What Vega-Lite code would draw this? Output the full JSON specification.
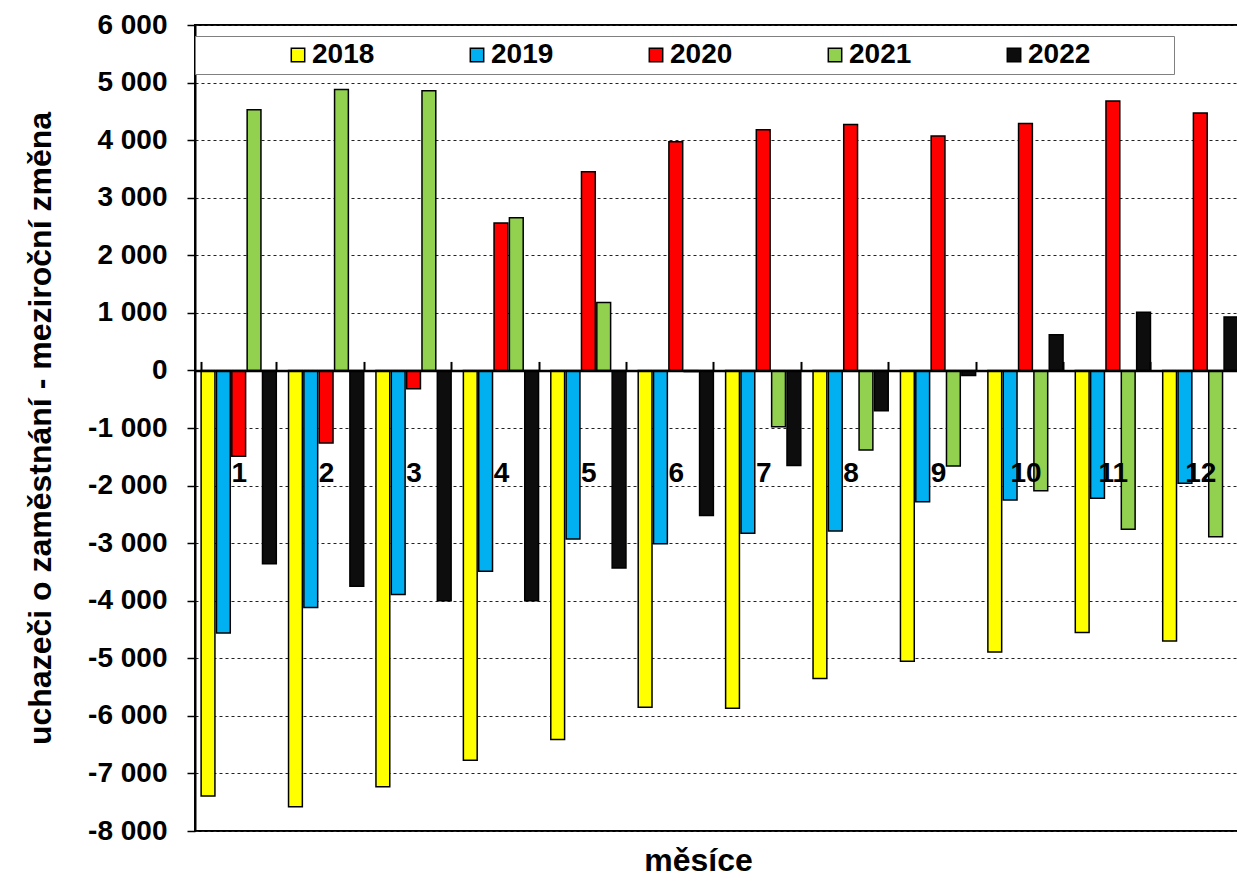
{
  "$schema": "https://vega.github.io/schema/vega-lite/v6.json",
  "width": 1049,
  "height": 806,
  "autosize": {"type": "none"},
  "padding": {"left": 195, "top": 25, "right": -7, "bottom": 50},
  "background": "white",
  "config": {
    "view": {"stroke": "black", "strokeWidth": 2},
    "font": "Liberation Sans"
  },
  "data": {
    "values": [
      {"month": 1, "year": "2018", "value": -7390},
      {"month": 1, "year": "2019", "value": -4560},
      {"month": 1, "year": "2020", "value": -1490},
      {"month": 1, "year": "2021", "value": 4530},
      {"month": 1, "year": "2022", "value": -3360},
      {"month": 2, "year": "2018", "value": -7580},
      {"month": 2, "year": "2019", "value": -4120},
      {"month": 2, "year": "2020", "value": -1260},
      {"month": 2, "year": "2021", "value": 4880},
      {"month": 2, "year": "2022", "value": -3750},
      {"month": 3, "year": "2018", "value": -7230},
      {"month": 3, "year": "2019", "value": -3890},
      {"month": 3, "year": "2020", "value": -320},
      {"month": 3, "year": "2021", "value": 4860},
      {"month": 3, "year": "2022", "value": -4000},
      {"month": 4, "year": "2018", "value": -6770},
      {"month": 4, "year": "2019", "value": -3490},
      {"month": 4, "year": "2020", "value": 2560},
      {"month": 4, "year": "2021", "value": 2650},
      {"month": 4, "year": "2022", "value": -4000},
      {"month": 5, "year": "2018", "value": -6410},
      {"month": 5, "year": "2019", "value": -2930},
      {"month": 5, "year": "2020", "value": 3450},
      {"month": 5, "year": "2021", "value": 1180},
      {"month": 5, "year": "2022", "value": -3430},
      {"month": 6, "year": "2018", "value": -5850},
      {"month": 6, "year": "2019", "value": -3010},
      {"month": 6, "year": "2020", "value": 3970},
      {"month": 6, "year": "2021", "value": -20},
      {"month": 6, "year": "2022", "value": -2520},
      {"month": 7, "year": "2018", "value": -5870},
      {"month": 7, "year": "2019", "value": -2830},
      {"month": 7, "year": "2020", "value": 4180},
      {"month": 7, "year": "2021", "value": -980},
      {"month": 7, "year": "2022", "value": -1650},
      {"month": 8, "year": "2018", "value": -5350},
      {"month": 8, "year": "2019", "value": -2790},
      {"month": 8, "year": "2020", "value": 4270},
      {"month": 8, "year": "2021", "value": -1380},
      {"month": 8, "year": "2022", "value": -700},
      {"month": 9, "year": "2018", "value": -5050},
      {"month": 9, "year": "2019", "value": -2280},
      {"month": 9, "year": "2020", "value": 4070},
      {"month": 9, "year": "2021", "value": -1660},
      {"month": 9, "year": "2022", "value": -90},
      {"month": 10, "year": "2018", "value": -4890},
      {"month": 10, "year": "2019", "value": -2250},
      {"month": 10, "year": "2020", "value": 4290},
      {"month": 10, "year": "2021", "value": -2090},
      {"month": 10, "year": "2022", "value": 620},
      {"month": 11, "year": "2018", "value": -4550},
      {"month": 11, "year": "2019", "value": -2220},
      {"month": 11, "year": "2020", "value": 4680},
      {"month": 11, "year": "2021", "value": -2760},
      {"month": 11, "year": "2022", "value": 1010},
      {"month": 12, "year": "2018", "value": -4700},
      {"month": 12, "year": "2019", "value": -1960},
      {"month": 12, "year": "2020", "value": 4470},
      {"month": 12, "year": "2021", "value": -2890},
      {"month": 12, "year": "2022", "value": 930}
    ]
  },
  "mark": {"type": "bar", "stroke": "black", "strokeWidth": 1.5},
  "encoding": {
    "x": {
      "field": "month",
      "type": "ordinal",
      "scale": {"paddingInner": 0.14, "paddingOuter": 0.07},
      "axis": {
        "orient": "bottom",
        "offset": -460.57,
        "title": "měsíce",
        "titleFontSize": 32,
        "titleFontWeight": "bold",
        "titleColor": "black",
        "titleX": 503,
        "titleY": 500,
        "titleAlign": "center",
        "titleBaseline": "alphabetic",
        "labelAngle": 0,
        "labelFontSize": 28,
        "labelFontWeight": "bold",
        "labelColor": "black",
        "labelBaseline": "alphabetic",
        "labelPadding": 120,
        "labelOverlap": false,
        "labelFlush": false,
        "tickSize": -9,
        "tickBand": "extent",
        "tickColor": "black",
        "tickWidth": 2,
        "domainColor": "black",
        "domainWidth": 2.5,
        "zindex": 1
      }
    },
    "xOffset": {"field": "year", "type": "nominal", "scale": {"paddingInner": 0.1}},
    "y": {
      "field": "value",
      "type": "quantitative",
      "scale": {"domain": [-8000, 6000], "nice": false, "zero": false},
      "axis": {
        "values": [-8000, -7000, -6000, -5000, -4000, -3000, -2000, -1000, 0, 1000, 2000, 3000, 4000, 5000, 6000],
        "labelExpr": "(datum.value < 0 ? '-' : '') + replace(format(abs(datum.value), ',d'), ',', ' ')",
        "title": "uchazeči o zaměstnání - meziroční změna",
        "titleFontSize": 32,
        "titleFontWeight": "bold",
        "titleColor": "black",
        "titleX": -155,
        "titleY": 403,
        "titleAngle": 270,
        "titleAlign": "center",
        "titleBaseline": "middle",
        "labelFontSize": 28,
        "labelFontWeight": "bold",
        "labelColor": "black",
        "labelPadding": 20,
        "tickSize": 8,
        "tickColor": "black",
        "tickWidth": 1.5,
        "domainColor": "black",
        "domainWidth": 2,
        "grid": true,
        "gridColor": "#222222",
        "gridDash": [3, 3],
        "gridWidth": 1,
        "zindex": 0
      }
    },
    "color": {
      "field": "year",
      "type": "nominal",
      "scale": {
        "domain": ["2018", "2019", "2020", "2021", "2022"],
        "range": ["#FFFF00", "#00B0F0", "#FF0000", "#92D050", "#0D0D0D"]
      },
      "legend": {
        "orient": "none",
        "legendX": 0,
        "legendY": 11,
        "direction": "horizontal",
        "columns": 5,
        "title": "\u200b\u00a0\u00a0\u00a0\u00a0\u00a0\u00a0\u00a0\u00a0\u00a0\u00a0\u200b",
        "titleOrient": "left",
        "titleFontSize": 28,
        "titlePadding": 6,
        "labelFontSize": 28,
        "labelFontWeight": "bold",
        "labelColor": "black",
        "labelOffset": 0,
        "labelExpr": "datum.label == '2022' ? '2022\u00a0\u00a0\u00a0\u00a0\u00a0\u00a0\u00a0\u00a0\u00a0\u00a0\u200b' : datum.label",
        "symbolType": "square",
        "symbolSize": 180,
        "symbolStrokeColor": "black",
        "symbolStrokeWidth": 1.5,
        "symbolOpacity": 1,
        "columnPadding": 88,
        "padding": 5,
        "fillColor": "white",
        "strokeColor": "#808080"
      }
    }
  }
}
